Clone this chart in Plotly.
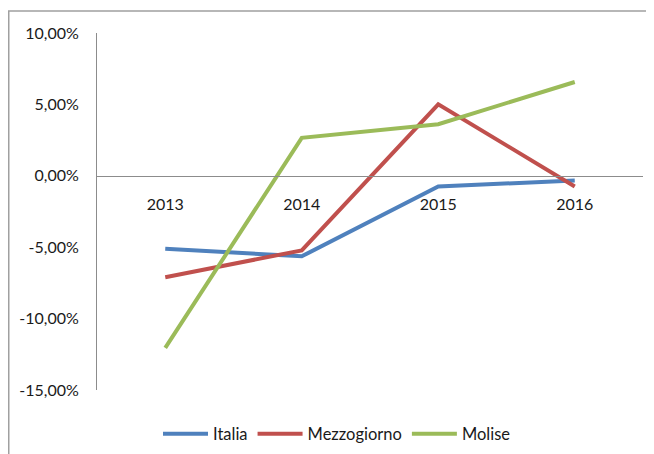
import plotly.graph_objects as go

years = ["2013", "2014", "2015", "2016"]
italia = [-5.10, -5.64, -0.75, -0.33]
mezzogiorno = [-7.10, -5.22, 5.01, -0.75]
molise = [-12.05, 2.66, 3.61, 6.57]

y_tickvals = [10, 5, 0, -5, -10, -15]
y_ticktext = ["10,00%", "5,00%", "0,00%", "-5,00%", "-10,00%", "-15,00%"]

series = [
    ("Italia", italia, "#4F81BD"),
    ("Mezzogiorno", mezzogiorno, "#C0504D"),
    ("Molise", molise, "#9BBB59"),
]

FONT = "Lato, 'Open Sans', sans-serif"

fig = go.Figure()
for name, vals, color in series:
    fig.add_trace(go.Scatter(
        x=years, y=vals, name=name, mode="lines",
        line=dict(color=color, width=4),
    ))

# page body has an 8px margin, so the figure is sized/positioned to compensate
OFF = 8
W, H = 654 - OFF, 454 - OFF
L, T = 97 - OFF, 33 - OFF
R = W - (643 - OFF)
B = H - (390.5 - OFF)
pw = W - L - R
ph = H - T - B
zero_y = 176 - OFF

fig.update_layout(
    width=W, height=H,
    margin=dict(l=L, r=R, t=T, b=B, autoexpand=False),
    paper_bgcolor="white", plot_bgcolor="white",
    font=dict(family=FONT, size=16, color="#1a1a1a"),
    showlegend=True,
    legend=dict(
        orientation="h", xref="container", yref="container",
        x=(337 - OFF) / W, xanchor="center",
        y=1 - (434 - OFF) / H, yanchor="middle",
        font=dict(family=FONT, size=16.5, color="#1a1a1a"),
        itemwidth=45, tracegroupgap=0,
    ),
    xaxis=dict(
        type="category", anchor="free", range=[-0.5, 3.5],
        position=(H - B - zero_y) / ph,
        showline=True, linecolor="#8c8c8c", linewidth=1,
        showgrid=False, zeroline=False, ticks="",
        ticklabelstandoff=14,
        tickfont=dict(family=FONT, size=16, color="#1a1a1a"),
    ),
    yaxis=dict(
        range=[-15, 10], tickvals=y_tickvals, ticktext=y_ticktext,
        showline=True, linecolor="#8c8c8c", linewidth=1,
        showgrid=False, zeroline=False, ticks="",
        ticklabelstandoff=14,
        tickfont=dict(family=FONT, size=16, color="#1a1a1a"),
    ),
    shapes=[dict(
        type="rect", xref="paper", yref="paper",
        x0=(0.75 - L) / pw, x1=(W + 20 - L) / pw,
        y0=-(B + 30) / ph, y1=((H - B) - 3) / ph,
        line=dict(color="#a0a0a0", width=1.5),
        fillcolor="rgba(0,0,0,0)", layer="below",
    )],
)

fig.write_html("out.html")
